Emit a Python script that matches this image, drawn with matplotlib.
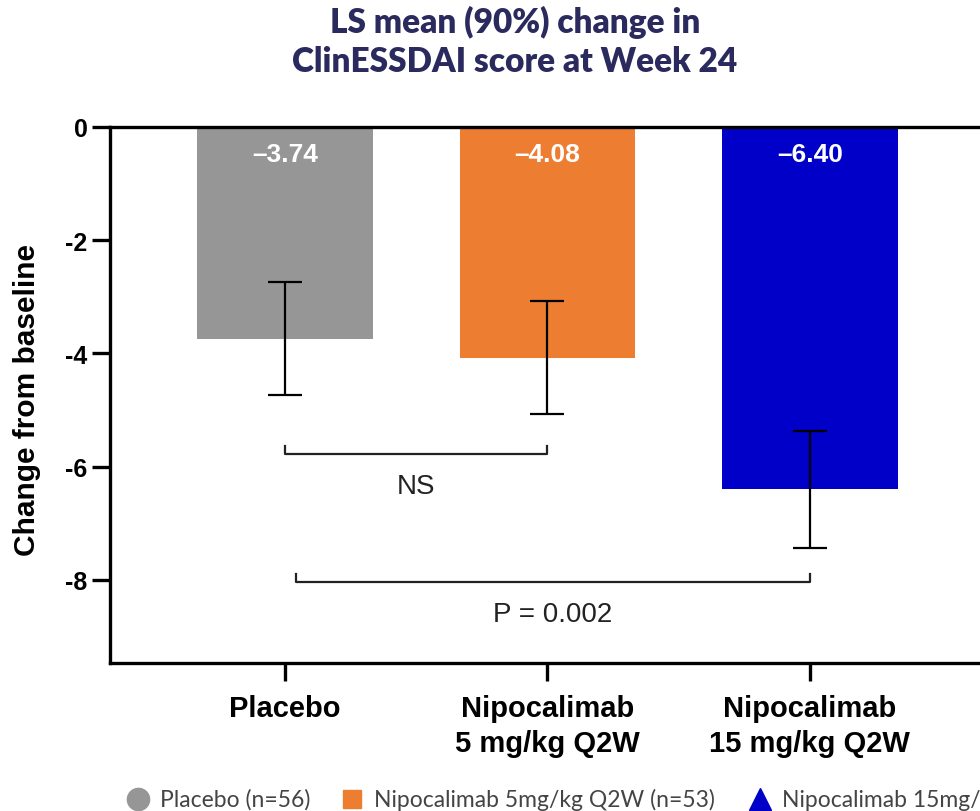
import matplotlib
matplotlib.use("Agg")
import matplotlib.pyplot as plt
from matplotlib.lines import Line2D

plt.rcParams['axes.unicode_minus'] = False

groups = ['Placebo', 'Nipocalimab\n5 mg/kg Q2W', 'Nipocalimab\n15 mg/kg Q2W']
ls_means = [-3.74, -4.08, -6.40]
ci_half = [1.00, 1.00, 1.03]
bar_labels = ['\u20133.74', '\u20134.08', '\u20136.40']
bar_colors = ['#969696', '#ED7D31', '#0000C8']
y_ticks = [0, -2, -4, -6, -8]

# comparison brackets: (left group, right group, y level, text)
brackets = [(0, 1, -5.78, 'NS'), (0.04, 2, -8.04, 'P = 0.002')]

legend_labels = ['Placebo (n=56)', 'Nipocalimab 5mg/kg Q2W (n=53)', 'Nipocalimab 15mg/kg Q2W (n=54)']
legend_markers = ['o', 's', '^']

ARIAL = ['Liberation Sans', 'DejaVu Sans']

fig = plt.figure(figsize=(9.8, 8.12), dpi=100)
ax = fig.add_axes([0.1122, 0.1823, 1 - 0.1122, 0.6601])

x = list(range(len(groups)))
ax.bar(x, ls_means, width=0.67, color=bar_colors, zorder=2)
ax.errorbar(x, ls_means, yerr=ci_half, fmt='none', ecolor='black',
            elinewidth=1.6, capsize=12.5, capthick=1.6, zorder=3)

for xi, lab in zip(x, bar_labels):
    ax.text(xi, -0.48, lab, ha='center', va='center', color='white',
            fontsize=19, fontweight='bold', family=ARIAL)

for x0, x1, yb, txt in brackets:
    ax.plot([x0, x0, x1, x1], [yb + 0.15, yb, yb, yb + 0.15], color='#222222', lw=1.6, zorder=3)
    ax.text((x0 + x1) / 2, yb - 0.57, txt, ha='center', va='center', fontsize=20,
            family=ARIAL, color='#222222')

ax.set_xlim(-0.667, 2.648)
ax.set_ylim(-9.47, 0)
ax.set_yticks(y_ticks)
ax.set_yticklabels([str(t) for t in y_ticks])
ax.set_xticks(x)
ax.set_xticklabels(groups)

for s in ['left', 'bottom', 'top']:
    ax.spines[s].set_linewidth(2.4)
ax.spines['right'].set_visible(False)
ax.tick_params(axis='both', width=2.4, length=13, direction='out')
ax.tick_params(axis='y', pad=3)
ax.tick_params(axis='x', pad=9)
for lab in ax.get_yticklabels() + ax.get_xticklabels():
    lab.set_fontweight('bold')
    lab.set_family(ARIAL)
for lab in ax.get_yticklabels():
    lab.set_fontsize(18)
for lab in ax.get_xticklabels():
    lab.set_fontsize(21)
    lab.set_linespacing(1.35)

fig.text(27 / 980, 1 - 400 / 812, 'Change from baseline', rotation=90, ha='center', va='center',
         fontsize=21.5, fontweight='bold', family=ARIAL)

fig.text(515 / 980, 1 - 42 / 812, 'LS mean (90%) change in\nClinESSDAI score at Week 24',
         ha='center', va='center', fontsize=24, fontweight='heavy', color='#2B2A5E',
         family=['Lato', 'DejaVu Sans'], linespacing=1.3)

# bottom legend
leg_x = [138, 352, 760]
for lx, lab, mk, col in zip(leg_x, legend_labels, legend_markers, bar_colors):
    fig.add_artist(Line2D([lx / 980], [1 - 800 / 812], marker=mk, markersize=16 if mk != 's' else 13,
                          color=col, linestyle='none', transform=fig.transFigure))
    fig.text((lx + 22) / 980, 1 - 800 / 812, lab, ha='left', va='center', fontsize=16.5,
             color='#444444', family=['Lato', 'DejaVu Sans'])

fig.savefig('out.png', dpi=100)
